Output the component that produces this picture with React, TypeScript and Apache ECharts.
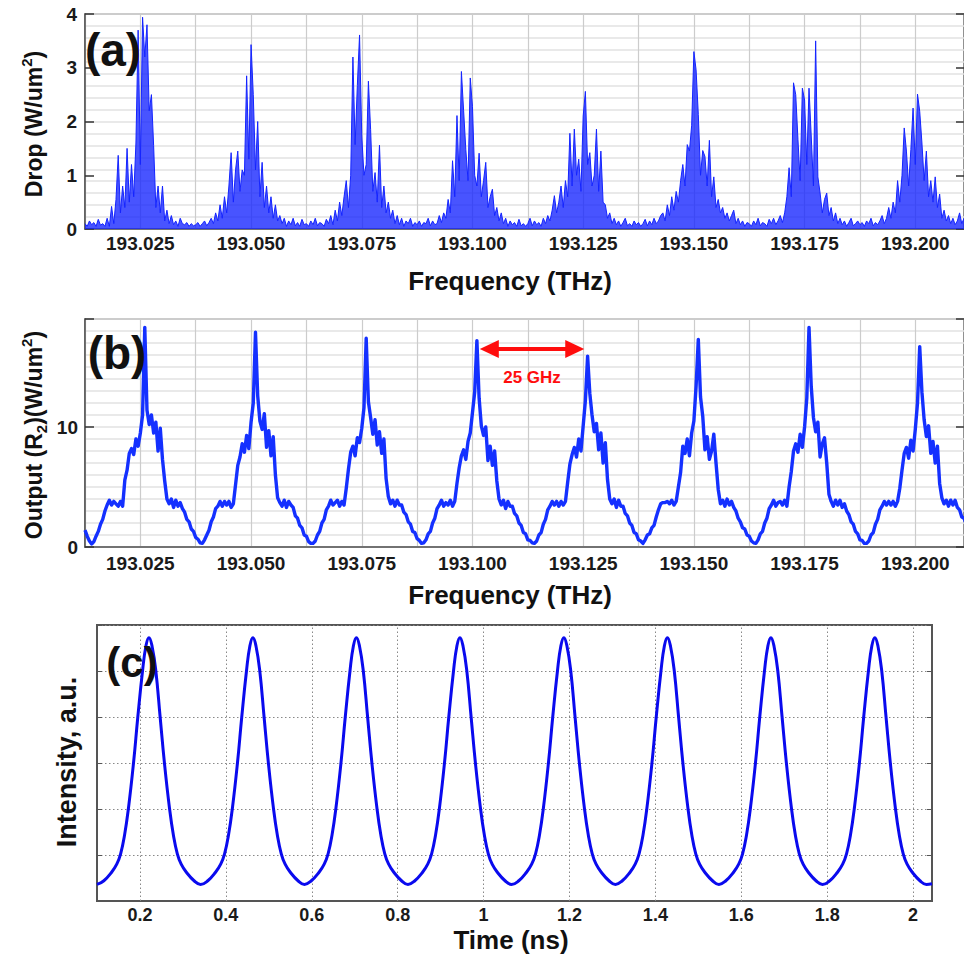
import React, { useEffect, useRef } from 'react';
import * as echarts from 'echarts';

const FONT = '"Liberation Sans", Arial, sans-serif';

// ---------- Panel (a): Drop spectrum ----------
const FREQ_START = 193.0125;
const FREQ_STEP = 0.0005;
const freqTickLabels = ['193.025', '193.050', '193.075', '193.100', '193.125', '193.150', '193.175', '193.200'];
const dropTicks = [0, 1, 2, 3, 4];

const dropSeg1 = [0.1,0.05,0.15,0.08,0.12,0.05,0.18,0.07,0.1,0.05,
  0.2,0.05,0.42,0.1,0.55,1.37,0.3,0.8,0.4,1.5,
  0.5,1.2,0.6,1.6,3.7,1.2,3.94,3.2,3.8,2.2,
  2.5,1.55,0.4,0.8,0.3,0.8,0.15,0.35,0.1,0.25,
  0.08,0.15,0.05,0.2,0.1,0.08,0.12,0.05,0.1,0.06];
const dropSeg2 = [0.08,0.12,0.05,0.1,0.15,0.06,0.12,0.2,0.1,0.3,
  0.15,0.45,0.2,0.6,0.3,0.8,1.42,0.5,1.1,1.45,
  0.7,1.1,1.0,2.85,1.3,3.43,2.5,1.1,2.0,0.6,
  1.24,0.4,0.8,0.3,0.6,0.2,0.45,0.15,0.25,0.1,
  0.2,0.05,0.15,0.08,0.2,0.06,0.12,0.05,0.18,0.08];
const dropSeg3 = [0.1,0.05,0.15,0.08,0.2,0.06,0.12,0.1,0.05,0.18,
  0.1,0.25,0.08,0.35,0.15,0.5,0.25,0.6,0.9,0.4,
  1.0,3.2,1.57,2.67,3.61,1.73,1.0,1.2,2.75,1.85,
  0.7,1.05,0.5,1.56,0.4,0.8,0.3,0.5,0.2,0.35,
  0.1,0.25,0.08,0.2,0.05,0.15,0.1,0.2,0.05,0.12];
const dropSeg4 = [0.08,0.15,0.05,0.12,0.1,0.2,0.06,0.15,0.08,0.1,
  0.25,0.12,0.3,0.2,0.55,0.3,1.27,0.6,2.11,0.9,
  2.93,2.2,1.48,0.9,2.81,2.28,1.0,0.8,1.41,0.6,
  0.9,1.24,0.4,0.6,0.74,0.25,0.4,0.15,0.3,0.1,
  0.2,0.05,0.15,0.08,0.12,0.05,0.18,0.06,0.1,0.05];
const dropSeg5 = [0.1,0.2,0.06,0.15,0.08,0.12,0.05,0.2,0.1,0.25,
  0.15,0.35,0.62,0.3,0.5,0.8,0.4,0.9,0.6,1.78,
  0.8,1.86,1.0,1.3,0.7,2.1,2.56,1.2,1.42,0.8,
  1.0,1.86,0.7,1.45,0.5,0.45,0.2,0.3,0.1,0.2,
  0.08,0.15,0.05,0.12,0.2,0.06,0.1,0.05,0.15,0.08];
const dropSeg6 = [0.12,0.05,0.1,0.18,0.06,0.15,0.08,0.2,0.1,0.15,
  0.25,0.3,0.15,0.45,0.25,0.6,0.35,0.7,0.5,0.9,
  1.2,0.8,1.57,1.45,1.93,3.3,2.96,2.13,1.0,1.46,
  1.35,0.8,1.65,0.6,0.97,0.4,0.55,0.3,0.4,0.2,
  0.3,0.15,0.25,0.35,0.1,0.2,0.08,0.15,0.05,0.12];
const dropSeg7 = [0.1,0.05,0.15,0.08,0.2,0.06,0.12,0.1,0.05,0.18,
  0.1,0.2,0.08,0.15,0.25,0.12,0.3,0.6,1.14,0.6,
  2.72,2.5,1.67,0.9,2.62,2.4,1.2,2.62,1.73,0.8,
  3.5,0.97,0.67,0.3,0.55,0.67,0.25,0.4,0.15,0.3,
  0.1,0.2,0.08,0.15,0.05,0.12,0.2,0.06,0.1,0.15];
const dropSeg8 = [0.08,0.12,0.05,0.15,0.1,0.2,0.06,0.12,0.08,0.15,
  0.25,0.1,0.2,0.4,0.2,0.5,0.3,0.9,0.5,1.0,
  1.88,1.45,0.8,1.48,2.25,1.2,2.51,2.19,1.6,0.9,
  1.45,0.6,0.9,0.5,0.97,0.4,0.65,0.2,0.35,0.15,
  0.25,0.1,0.2,0.08,0.15,0.3,0.1,0.2];

// ---------- Panel (b): Output (R2) ----------
const outputTicks = [0, 10];
const outSeg0 = [1.4, 0.9, 0.5];
const outSeg1 = [0.25,0.45,0.9,1.3,1.9,2.3,3.0,3.5,3.9,3.5,
  3.8,3.6,3.4,3.8,3.4,5.6,6.4,7.8,8.2,7.7,
  9.0,8.4,9.5,11.0,18.3,11.4,10.2,11.0,9.5,10.4,
  8.0,9.9,7.3,5.5,4.0,3.6,4.0,3.3,3.9,3.4,
  3.7,3.2,2.9,2.3,2.1,1.5,1.3,0.8,0.65,0.35];
const outSeg2 = [0.3,0.6,1.0,1.4,2.1,2.5,3.2,3.4,3.8,3.4,
  3.8,3.5,3.8,3.3,3.6,5.2,6.8,7.5,8.6,7.9,
  9.3,8.2,10.4,12.0,17.9,12.6,10.5,9.8,11.1,8.3,
  9.7,7.6,9.2,6.0,4.1,3.7,3.4,3.9,3.3,3.8,
  3.5,3.3,2.6,2.4,1.8,1.6,1.0,0.9,0.45,0.3];
const outSeg3 = [0.3,0.5,1.0,1.3,2.0,2.3,3.1,3.4,3.9,3.5,
  3.7,3.9,3.4,3.8,3.5,4.9,6.5,7.9,8.4,7.6,
  9.1,8.7,9.9,11.6,17.4,12.1,10.8,9.4,10.6,8.5,
  9.6,7.8,9.0,5.7,4.2,3.6,3.9,3.4,3.9,3.5,
  3.5,2.9,2.7,2.1,1.9,1.3,1.2,0.7,0.55,0.3];
const outSeg4 = [0.35,0.6,1.1,1.3,2.0,2.4,3.2,3.5,3.9,3.4,
  3.7,3.5,3.9,3.4,3.8,5.3,6.6,7.6,8.1,7.3,
  8.8,9.5,11.2,12.9,17.2,12.4,10.1,9.3,10.0,7.2,
  8.4,6.8,8.0,5.5,4.0,3.5,3.9,3.2,3.8,3.4,
  3.4,2.8,2.6,2.0,1.8,1.2,1.1,0.6,0.55,0.35];
const outSeg5 = [0.3,0.5,1.0,1.2,1.9,2.3,3.1,3.4,3.8,3.5,
  3.8,3.4,3.8,3.5,3.8,5.4,6.9,7.7,8.3,7.5,
  9.0,8.0,10.1,12.2,15.9,12.8,11.0,9.6,10.3,8.1,
  9.5,7.0,8.7,5.6,4.0,3.6,4.0,3.3,3.9,3.4,
  3.4,2.8,2.6,2.0,1.8,1.2,1.1,0.6,0.5,0.3];
const outSeg6 = [0.6,1.0,1.1,1.6,1.8,2.5,3.1,3.6,3.7,
  3.7,3.8,3.6,3.9,3.5,3.8,5.0,6.2,8.4,7.8,
  9.0,7.6,9.5,10.5,13.4,17.3,12.5,10.9,8.1,9.2,
  7.3,8.0,9.4,7.0,4.8,3.6,3.9,3.4,4.0,3.5,
  3.8,3.3,3.0,2.4,2.1,1.6,1.5,1.0,0.9,0.5,0.35];
const outSeg7 = [0.3,0.6,1.1,1.3,2.0,2.4,3.2,3.5,3.9,3.4,
  3.7,3.8,3.5,3.9,3.4,5.0,6.3,8.0,8.6,7.9,
  9.4,8.3,10.0,12.4,18.3,13.4,10.8,9.6,10.4,7.5,
  8.6,9.1,7.0,4.4,3.8,3.4,3.9,3.5,3.9,3.3,
  3.6,3.0,2.7,2.1,1.9,1.3,1.1,0.6,0.55,0.3];
const outSeg8 = [0.3,0.5,1.0,1.2,1.9,2.3,3.1,3.4,3.8,3.5,
  3.8,3.5,3.8,3.4,3.8,4.9,6.4,7.8,8.3,7.4,
  8.9,8.0,9.8,12.0,16.7,12.9,10.6,9.2,10.1,7.8,
  8.8,7.0,8.4,5.3,4.1,3.6,3.9,3.4,3.9,3.5,
  3.9,3.3,3.1,2.5,2.4,1.9];

// 25 GHz spacing annotation (frequencies of arrow ends, level)
const spacingFrom = 193.1038;
const spacingTo = 193.1231;
const spacingLevel = 16.5;
const spacingLabel = '25 GHz';

// ---------- Panel (c): Intensity vs time ----------
const timeTickLabels = ['0.2', '0.4', '0.6', '0.8', '1', '1.2', '1.4', '1.6', '1.8', '2'];
const intensityTime = [
  0.1,
  0.116,0.134,0.146,0.155,0.164,0.173,0.185,0.195,0.206,0.214,0.221,0.228,0.237,0.247,0.257,0.269,0.278,0.287,0.296,0.308,0.326,0.341,
  0.358,0.376,0.388,0.397,0.406,0.415,0.427,0.437,0.448,0.456,0.463,0.470,0.479,0.489,0.499,0.511,0.520,0.529,0.538,0.550,0.568,0.583,
  0.599,0.617,0.629,0.638,0.647,0.656,0.668,0.678,0.689,0.697,0.704,0.711,0.720,0.730,0.740,0.752,0.761,0.770,0.779,0.791,0.809,0.824,
  0.840,0.858,0.870,0.879,0.888,0.897,0.909,0.919,0.930,0.938,0.945,0.952,0.961,0.971,0.981,0.993,1.002,1.011,1.020,1.032,1.050,1.065,
  1.082,1.100,1.112,1.121,1.130,1.139,1.151,1.161,1.172,1.180,1.187,1.194,1.203,1.213,1.223,1.235,1.244,1.253,1.262,1.274,1.292,1.307,
  1.323,1.341,1.353,1.362,1.371,1.380,1.392,1.402,1.413,1.421,1.428,1.435,1.444,1.454,1.464,1.476,1.485,1.494,1.503,1.515,1.533,1.548,
  1.564,1.582,1.594,1.603,1.612,1.621,1.633,1.643,1.654,1.662,1.669,1.676,1.685,1.695,1.705,1.717,1.726,1.735,1.744,1.756,1.774,1.789,
  1.806,1.824,1.836,1.845,1.854,1.863,1.875,1.885,1.896,1.904,1.911,1.918,1.927,1.937,1.947,1.959,1.968,1.977,1.986,1.998,2.016,2.031,
  2.044];
const intensityValue = [
  0.072,
  0.088,0.125,0.16,0.205,0.285,0.4,0.6,0.8,1.0,1.11,1.145,1.11,1.0,0.8,0.6,0.4,0.285,0.205,0.16,0.125,0.088,0.072,
  0.088,0.125,0.16,0.205,0.285,0.4,0.6,0.8,1.0,1.11,1.145,1.11,1.0,0.8,0.6,0.4,0.285,0.205,0.16,0.125,0.088,0.072,
  0.088,0.125,0.16,0.205,0.285,0.4,0.6,0.8,1.0,1.11,1.145,1.11,1.0,0.8,0.6,0.4,0.285,0.205,0.16,0.125,0.088,0.072,
  0.088,0.125,0.16,0.205,0.285,0.4,0.6,0.8,1.0,1.11,1.145,1.11,1.0,0.8,0.6,0.4,0.285,0.205,0.16,0.125,0.088,0.072,
  0.088,0.125,0.16,0.205,0.285,0.4,0.6,0.8,1.0,1.11,1.145,1.11,1.0,0.8,0.6,0.4,0.285,0.205,0.16,0.125,0.088,0.072,
  0.088,0.125,0.16,0.205,0.285,0.4,0.6,0.8,1.0,1.11,1.145,1.11,1.0,0.8,0.6,0.4,0.285,0.205,0.16,0.125,0.088,0.072,
  0.088,0.125,0.16,0.205,0.285,0.4,0.6,0.8,1.0,1.11,1.145,1.11,1.0,0.8,0.6,0.4,0.285,0.205,0.16,0.125,0.088,0.072,
  0.088,0.125,0.16,0.205,0.285,0.4,0.6,0.8,1.0,1.11,1.145,1.11,1.0,0.8,0.6,0.4,0.285,0.205,0.16,0.125,0.088,0.072,
  0.075];

// ---------- build data ----------
const dropValues = ([] as number[]).concat(dropSeg1, dropSeg2, dropSeg3, dropSeg4, dropSeg5, dropSeg6, dropSeg7, dropSeg8);
const outValues = ([] as number[]).concat(outSeg0, outSeg1, outSeg2, outSeg3, outSeg4, outSeg5, outSeg6, outSeg7, outSeg8);
const freqAt = (i: number) => +(FREQ_START + FREQ_STEP * i).toFixed(4);
const dropData = dropValues.map((v, i) => [freqAt(i), v]);
const outData = outValues.map((v, i) => [freqAt(i), v]);
const intensityData = intensityTime.map((t, i) => [t, intensityValue[i]]);
const timeGridValues = timeTickLabels.map(Number);

const freqFormatter = (v: number) => {
  const s = v.toFixed(3);
  return freqTickLabels.includes(s) && Math.abs(v - +s) < 1e-6 ? s : '';
};
const timeFormatter = (v: number) => {
  const s = String(+v.toFixed(1));
  return timeTickLabels.includes(s) && Math.abs(v - +s) < 1e-6 ? s : '';
};

const tickLabel = { fontFamily: FONT, fontWeight: 'bold' as const, fontSize: 19, color: '#1a1a1a' };
const axisDark = { show: true, lineStyle: { color: '#555', width: 1.5 } };
const dottedGrid = { color: '#888', width: 1, type: [1.5, 2.5] };

const option: any = {
  animation: false,
  backgroundColor: '#ffffff',
  grid: [
    { left: 85, top: 14, right: 0, height: 215, show: true, borderColor: '#666', borderWidth: 1.5, containLabel: false },
    { left: 85, top: 319, right: 0, height: 228, show: true, borderColor: '#666', borderWidth: 1.5, containLabel: false },
    { left: 97, top: 625, width: 835, height: 276, show: true, borderColor: '#555', borderWidth: 2, containLabel: false },
  ],
  xAxis: [
    {
      type: 'value', gridIndex: 0, min: FREQ_START, max: 193.211, interval: 0.0125,
      axisLine: axisDark, axisTick: { show: false },
      axisLabel: { ...tickLabel, margin: 5, formatter: freqFormatter, showMinLabel: false, showMaxLabel: false },
      splitLine: { show: true, lineStyle: { color: '#cccccc', width: 1.2 } },
    },
    {
      type: 'value', gridIndex: 1, min: FREQ_START, max: 193.211, interval: 0.0125,
      axisLine: axisDark, axisTick: { show: false },
      axisLabel: { ...tickLabel, margin: 7, formatter: freqFormatter, showMinLabel: false, showMaxLabel: false },
      splitLine: { show: true, lineStyle: { color: '#cccccc', width: 1.2 } },
    },
    {
      type: 'value', gridIndex: 2, min: 0.1, max: 2.044, interval: 0.1,
      axisLine: { show: true, lineStyle: { color: '#555', width: 2 } },
      axisTick: { show: false },
      axisLabel: { ...tickLabel, fontSize: 18, margin: 5, formatter: timeFormatter, showMinLabel: false, showMaxLabel: false },
      splitLine: { show: false },
    },
  ],
  yAxis: [
    {
      type: 'value', gridIndex: 0, position: 'left', min: dropTicks[0], max: dropTicks[dropTicks.length - 1], interval: 1,
      axisLine: axisDark,
      axisTick: { show: true, inside: true, length: 9, lineStyle: { color: '#333', width: 1.5 } },
      axisLabel: { ...tickLabel, margin: 8 },
      splitLine: { show: false },
    },
    {
      type: 'value', gridIndex: 0, position: 'left', min: 0, max: 18, interval: 1,
      axisLine: { show: false }, axisTick: { show: false }, axisLabel: { show: false },
      splitLine: { show: true, lineStyle: { color: '#e2e2e2', width: 1.5 } },
    },
    {
      type: 'value', gridIndex: 0, position: 'right', min: 0, max: 4, interval: 1,
      axisLine: { show: false },
      axisTick: { show: true, inside: true, length: 8, lineStyle: { color: '#333', width: 1.5 } },
      axisLabel: { show: false }, splitLine: { show: false },
    },
    {
      type: 'value', gridIndex: 1, position: 'left', min: 0, max: 19, interval: 1,
      axisLine: axisDark, axisTick: { show: false }, axisLabel: { show: false },
      splitLine: { show: true, lineStyle: { color: '#e2e2e2', width: 1.5 } },
    },
    {
      type: 'value', gridIndex: 1, position: 'left', min: 0, max: 19, interval: 10,
      axisLine: { show: false },
      axisTick: { show: true, inside: true, length: 9, lineStyle: { color: '#333', width: 1.5 } },
      axisLabel: { ...tickLabel, margin: 7, formatter: (v: number) => (outputTicks.includes(v) ? String(v) : '') },
      splitLine: { show: false },
    },
    {
      type: 'value', gridIndex: 1, position: 'right', min: 0, max: 19, interval: 10,
      axisLine: { show: false },
      axisTick: { show: true, inside: true, length: 8, lineStyle: { color: '#333', width: 1.5 } },
      axisLabel: { show: false }, splitLine: { show: false },
    },
    {
      type: 'value', gridIndex: 2, position: 'left', min: 0, max: 1.2, interval: 0.2,
      axisLine: { show: true, lineStyle: { color: '#555', width: 2 } },
      axisTick: { show: true, inside: true, length: 5, lineStyle: { color: '#555' } },
      axisLabel: { show: false },
      splitLine: { show: true, lineStyle: dottedGrid },
    },
    {
      type: 'value', gridIndex: 2, position: 'right', min: 0, max: 1.2, interval: 0.2,
      axisLine: { show: false },
      axisTick: { show: true, inside: true, length: 5, lineStyle: { color: '#555' } },
      axisLabel: { show: false }, splitLine: { show: false },
    },
  ],
  series: [
    {
      name: 'Drop', type: 'line', xAxisIndex: 0, yAxisIndex: 0, data: dropData,
      showSymbol: false, symbol: 'none', lineStyle: { color: '#1424ff', width: 1 },
      areaStyle: { color: '#1424ff', opacity: 0.78 }, z: 5,
    },
    {
      name: 'Output', type: 'line', xAxisIndex: 1, yAxisIndex: 3, data: outData,
      showSymbol: false, symbol: 'none', lineStyle: { color: '#1430ff', width: 3.4, join: 'round' }, z: 5,
      markLine: {
        silent: true, symbol: ['triangle', 'triangle'], symbolSize: [18, 19],
        lineStyle: { color: '#ff0d0d', width: 4, type: 'solid' },
        label: {
          show: true, position: 'insideMiddleBottom', formatter: spacingLabel, distance: 20,
          color: '#ff0d0d', fontFamily: FONT, fontWeight: 'bold', fontSize: 17,
        },
        data: [[{ coord: [spacingFrom, spacingLevel] }, { coord: [spacingTo, spacingLevel] }]],
      },
    },
    {
      name: 'TimeGrid', type: 'line', xAxisIndex: 2, yAxisIndex: 6, data: [], z: 1,
      markLine: {
        silent: true, symbol: 'none', label: { show: false },
        lineStyle: dottedGrid,
        data: timeGridValues.map((v) => ({ xAxis: v })),
      },
    },
    {
      name: 'Intensity', type: 'line', xAxisIndex: 2, yAxisIndex: 6, data: intensityData,
      showSymbol: false, symbol: 'none', smooth: 0.45, lineStyle: { color: '#0a0aee', width: 3 }, z: 5,
    },
  ],
  graphic: [
    { type: 'text', x: 113, y: 50, z: 10, style: { text: '(a)', fontFamily: FONT, fontWeight: 'bold', fontSize: 46, fill: '#111', align: 'center', verticalAlign: 'middle' } },
    { type: 'text', x: 117, y: 353, z: 10, style: { text: '(b)', fontFamily: FONT, fontWeight: 'bold', fontSize: 46, fill: '#111', align: 'center', verticalAlign: 'middle' } },
    { type: 'text', x: 132, y: 662, z: 10, style: { text: '(c)', fontFamily: FONT, fontWeight: 'bold', fontSize: 42, fill: '#111', align: 'center', verticalAlign: 'middle' } },
    {
      type: 'text', x: 34, y: 124, rotation: Math.PI / 2, z: 10,
      style: {
        text: '{m|Drop (W/um}{s|2}{m|)}', fill: '#111', align: 'center', verticalAlign: 'middle',
        rich: {
          m: { fontFamily: FONT, fontWeight: 'bold', fontSize: 23, lineHeight: 30 },
          s: { fontFamily: FONT, fontWeight: 'bold', fontSize: 15, lineHeight: 15, verticalAlign: 'top' },
        },
      },
    },
    {
      type: 'text', x: 34, y: 435, rotation: Math.PI / 2, z: 10,
      style: {
        text: '{m|Output (R}{b|2}{m|)(W/um}{s|2}{m|)}', fill: '#111', align: 'center', verticalAlign: 'middle',
        rich: {
          m: { fontFamily: FONT, fontWeight: 'bold', fontSize: 23, lineHeight: 30 },
          s: { fontFamily: FONT, fontWeight: 'bold', fontSize: 15, lineHeight: 15, verticalAlign: 'top' },
          b: { fontFamily: FONT, fontWeight: 'bold', fontSize: 15, lineHeight: 15, verticalAlign: 'bottom' },
        },
      },
    },
    { type: 'text', x: 67, y: 762, rotation: Math.PI / 2, z: 10, style: { text: 'Intensity, a.u.', fontFamily: FONT, fontWeight: 'bold', fontSize: 27, fill: '#111', align: 'center', verticalAlign: 'middle' } },
    { type: 'text', x: 510, y: 281, z: 10, style: { text: 'Frequency (THz)', fontFamily: FONT, fontWeight: 'bold', fontSize: 26, fill: '#111', align: 'center', verticalAlign: 'middle' } },
    { type: 'text', x: 510, y: 595, z: 10, style: { text: 'Frequency (THz)', fontFamily: FONT, fontWeight: 'bold', fontSize: 26, fill: '#111', align: 'center', verticalAlign: 'middle' } },
    { type: 'text', x: 511, y: 940, z: 10, style: { text: 'Time (ns)', fontFamily: FONT, fontWeight: 'bold', fontSize: 26, fill: '#111', align: 'center', verticalAlign: 'middle' } },
  ],
};

export default function App() {
  const ref = useRef<HTMLDivElement>(null);
  useEffect(() => {
    if (!ref.current) return;
    const chart = echarts.init(ref.current, null, { renderer: 'svg' });
    chart.setOption(option);
    return () => chart.dispose();
  }, []);
  return (
    <div
      ref={ref}
      style={{ position: 'fixed', left: 0, top: 0, width: 964, height: 957, background: '#ffffff' }}
    />
  );
}
